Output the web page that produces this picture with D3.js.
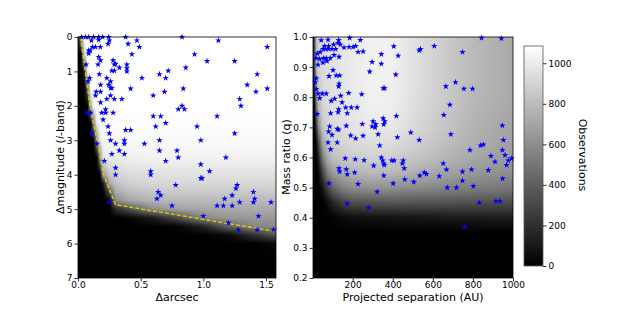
<!DOCTYPE html>
<html lang="en">
<head>
<meta charset="UTF-8">
<script src="https://d3js.org/d3.v7.min.js"></script>
<style>
  body { margin: 0; background: #fff; }
  text { font-family: "DejaVu Sans", sans-serif; }
</style>
</head>
<body>
<div id="chart"></div>
<script>
// ---- left panel: completeness map (observations) on a sep x dmag grid
const leftGridSep = [0, 0.025, 0.05, 0.075, 0.1, 0.125, 0.15, 0.175, 0.2, 0.25, 0.3, 0.4, 0.6, 0.8, 1.0, 1.2, 1.4, 1.6];
const leftGridMag = [0, 0.5, 1, 1.5, 2, 2.5, 3, 3.5, 4, 4.25, 4.5, 4.75, 5, 5.25, 5.5, 5.75, 6, 6.5, 7];
const leftGridObs = [
  [0,700,1085,1085,1085,1085,1085,1085,1085,1085,1085,1085,1085,1085,1085,1085,1085,1085],
  [0,0,900,1085,1085,1085,1085,1085,1085,1085,1085,1085,1085,1085,1085,1085,1085,1085],
  [0,0,100,1000,1085,1085,1085,1085,1085,1085,1085,1085,1085,1085,1085,1085,1085,1085],
  [0,0,0,350,1060,1085,1085,1085,1085,1085,1085,1085,1085,1085,1085,1085,1085,1085],
  [0,0,0,0,700,1050,1080,1085,1085,1085,1085,1085,1085,1085,1085,1085,1085,1085],
  [0,0,0,0,0,550,1000,1060,1075,1078,1078,1078,1078,1078,1078,1078,1078,1078],
  [0,0,0,0,0,0,600,980,1050,1055,1058,1060,1062,1062,1062,1062,1062,1062],
  [0,0,0,0,0,0,0,550,980,1000,1010,1020,1030,1030,1030,1030,1030,1030],
  [0,0,0,0,0,0,0,0,650,850,900,930,955,960,960,960,960,960],
  [0,0,0,0,0,0,0,0,100,720,820,880,915,920,920,920,920,920],
  [0,0,0,0,0,0,0,0,0,350,720,800,850,860,860,860,860,860],
  [0,0,0,0,0,0,0,0,0,20,580,700,770,785,790,790,790,790],
  [0,0,0,0,0,0,0,0,0,0,180,330,600,690,710,720,720,720],
  [0,0,0,0,0,0,0,0,0,0,0,20,120,330,580,640,650,650],
  [0,0,0,0,0,0,0,0,0,0,0,0,0,20,150,420,570,580],
  [0,0,0,0,0,0,0,0,0,0,0,0,0,0,0,40,200,380],
  [0,0,0,0,0,0,0,0,0,0,0,0,0,0,0,0,0,40],
  [0,0,0,0,0,0,0,0,0,0,0,0,0,0,0,0,0,0],
  [0,0,0,0,0,0,0,0,0,0,0,0,0,0,0,0,0,0]
];
// contrast curve (yellow dashed)
const curveSep = [0.02, 0.1, 0.165, 0.2, 0.3, 1.58];
const curveMag = [0, 2.1, 3.2, 3.97, 4.87, 5.65];
// detected companions [sep arcsec, dmag]
const leftStars = [
  [0.03,0],[0.06,0],[0.085,0],[0.125,0],[0.165,0],[0.197,0],[0.245,0],[0.38,0],[0.83,0],
  [0.107,0.1],[0.165,0.08],[0.25,0.1],[0.47,0.1],[1.12,0.1],[0.4,0.2],[0.24,0.2],
  [0.117,0.29],[0.139,0.29],[0.178,0.29],[0.49,0.29],[1.51,0.29],[0.085,0.39],[0.098,0.39],
  [0.085,0.48],[0.43,0.5],[0.93,0.5],[0.165,0.58],[0.18,0.68],[0.28,0.68],[1.03,0.7],[1.25,0.7],
  [0.064,0.8],[0.16,0.8],[0.29,0.8],[0.3,0.78],[0.39,0.8],[0.39,0.91],[0.39,1.0],
  [0.33,0.89],[0.86,0.89],[0.27,0.98],[0.29,0.98],[0.72,0.98],[0.17,1.08],[0.65,1.08],[1.43,1.08],
  [0.093,1.19],[0.23,1.19],[0.51,1.19],[0.70,1.19],[0.08,1.29],[0.26,1.29],
  [0.18,1.39],[0.245,1.39],[1.35,1.39],[0.26,1.48],[0.27,1.48],[0.42,1.5],[0.84,1.5],[1.51,1.5],
  [0.145,1.59],[0.18,1.59],[0.69,1.59],[1.42,1.59],[0.14,1.7],[0.26,1.7],[0.6,1.7],
  [0.23,1.8],[0.29,1.8],[0.35,1.8],[1.29,1.8],[0.18,1.9],[1.3,2.0],
  [0.22,2.1],[0.8,2.1],[0.83,2.0],[0.85,2.1],[0.072,2.2],[0.1,2.2],[0.19,2.2],[0.22,2.2],[0.28,2.2],
  [0.6,2.3],[0.66,2.3],[1.11,2.3],[0.2,2.4],[0.7,2.5],[0.24,2.6],[0.62,2.6],[0.95,2.6],
  [0.38,2.7],[0.42,2.7],[0.11,2.8],[0.25,2.8],[1.25,2.8],
  [0.26,3.0],[0.37,3.0],[0.65,3.0],[0.98,3.0],[0.15,3.1],[0.3,3.1],[0.37,3.1],[0.53,3.1],
  [0.33,3.3],[0.65,3.3],[0.79,3.3],[0.27,3.4],[0.37,3.4],[0.8,3.5],[1.18,3.5],
  [0.21,3.6],[0.7,3.6],[0.98,3.7],[0.3,3.8],[0.58,3.9],[0.58,4.0],[1.05,3.9],[0.3,4.0],
  [0.98,4.1],[0.99,4.1],[0.78,4.3],[1.27,4.3],[1.26,4.4],[0.64,4.5],[1.4,4.5],
  [0.66,4.6],[1.23,4.6],[0.63,4.7],[1.17,4.7],[1.41,4.7],
  [0.25,4.8],[1.29,4.8],[1.4,4.8],[1.54,4.8],[0.75,4.9],[1.11,4.9],[1.16,4.9],[1.23,4.9],
  [1.0,5.2],[1.44,5.2],[1.2,5.4],[1.28,5.6],[1.43,5.6],[1.56,5.6]
];

// ---- right panel: completeness on projected separation x mass ratio grid
const rightGridAU = [0, 10, 20, 30, 50, 75, 100, 150, 200, 300, 400, 600, 800, 1000];
const rightGridQ = [1.0, 0.95, 0.9, 0.85, 0.8, 0.75, 0.7, 0.65, 0.6, 0.55, 0.5, 0.45, 0.4, 0.35, 0.3, 0.25, 0.2];
const rightGridObs = [
  [0,350,820,900,930,950,960,980,1000,1030,1020,900,790,720],
  [0,330,810,895,930,950,960,980,1000,1030,1020,900,790,720],
  [0,300,800,890,930,950,960,980,1000,1030,1020,900,790,720],
  [0,200,750,870,920,945,960,980,1000,1030,1020,900,790,720],
  [0,100,620,820,905,940,955,975,995,1025,1015,895,785,715],
  [0,40,450,740,880,925,945,965,985,1015,1005,885,775,705],
  [0,10,260,580,830,895,925,950,970,995,985,870,760,695],
  [0,0,80,320,700,840,880,910,930,950,940,845,745,680],
  [0,0,20,150,520,740,810,850,870,890,880,800,715,655],
  [0,0,0,40,280,540,660,740,770,790,780,720,650,600],
  [0,0,0,0,90,280,430,550,600,620,610,580,540,505],
  [0,0,0,0,0,60,150,270,330,350,360,350,340,330],
  [0,0,0,0,0,0,10,40,60,70,80,100,110,120],
  [0,0,0,0,0,0,0,0,0,0,0,0,0,0],
  [0,0,0,0,0,0,0,0,0,0,0,0,0,0],
  [0,0,0,0,0,0,0,0,0,0,0,0,0,0],
  [0,0,0,0,0,0,0,0,0,0,0,0,0,0]
];
// companions [projected separation AU, mass ratio q]
const rightStars = [
  [43,0.989],[77,0.991],[127,0.98],[130,0.99],[185,0.997],[238,0.99],[843,0.997],[942,0.995],
  [23,0.945],[38,0.95],[52,0.96],[60,0.97],[65,0.96],[80,0.97],[80,0.96],[97,0.96],[105,0.975],[115,0.96],
  [138,0.975],[157,0.965],[182,0.967],[202,0.967],[215,0.97],[227,0.95],[252,0.952],
  [17,0.93],[35,0.927],[55,0.93],[68,0.93],[88,0.93],[107,0.94],[132,0.934],
  [27,0.908],[52,0.915],[72,0.92],[102,0.89],[82,0.87],[118,0.872],[135,0.872],
  [285,0.885],[297,0.917],[343,0.943],[343,0.911],[405,0.969],[427,0.938],[415,0.875],
  [532,0.955],[538,0.96],[607,0.97],[748,0.95],
  [13,0.85],[18,0.863],[18,0.827],[713,0.85],[665,0.836],[755,0.828],[798,0.828],[130,0.836],[132,0.845],
  [180,0.814],[245,0.81],[352,0.83],[360,0.83],
  [27,0.812],[48,0.812],[68,0.812],[35,0.797],[93,0.788],[110,0.795],[140,0.805],[147,0.783],
  [130,0.76],[127,0.75],[165,0.766],[193,0.766],[222,0.766],[173,0.747],[90,0.747],[23,0.744],
  [248,0.711],[302,0.72],[315,0.71],[312,0.7],[297,0.703],[352,0.73],[360,0.72],[355,0.71],
  [418,0.738],[423,0.667],[655,0.741],[690,0.677],[685,0.775],[947,0.706],[490,0.683],[532,0.658],
  [85,0.703],[80,0.686],[97,0.675],[123,0.695],[130,0.692],[77,0.65],[90,0.627],[123,0.65],
  [168,0.705],[190,0.673],[215,0.663],[252,0.672],[327,0.677],[335,0.64],
  [343,0.6],[350,0.59],[355,0.58],[358,0.575],[395,0.59],[407,0.59],[448,0.58],[452,0.59],[457,0.564],
  [213,0.594],[163,0.597],[132,0.564],[135,0.553],[168,0.561],[257,0.591],[305,0.573],[355,0.54],[173,0.544],
  [82,0.514],[210,0.55],[227,0.512],[322,0.486],[402,0.514],[460,0.527],[505,0.519],[535,0.54],
  [557,0.55],[568,0.545],[632,0.538],[652,0.58],[668,0.56],[748,0.553],[748,0.523],[672,0.5],[718,0.5],
  [793,0.56],[785,0.625],[838,0.64],[852,0.643],[890,0.605],[910,0.586],[947,0.625],[952,0.658],
  [960,0.608],[968,0.575],[977,0.59],[993,0.597],[877,0.558],[948,0.53],[802,0.505],
  [832,0.45],[915,0.455],[935,0.455],[172,0.447],[280,0.433],[757,0.37]
];

const obsMax = 1085;
const cbarTicks = [0, 200, 400, 600, 800, 1000];

const svg = d3.select("#chart").append("svg")
  .attr("width", 624)
  .attr("height", 312)
  .style("background", "#fff");

const gray = d3.scaleLinear().domain([0, obsMax]).range([0, 255]).clamp(true);
const star = d3.symbol().type(d3.symbolStar).size(13);

// paint a grid onto a canvas with bilinear interpolation, return a data url
function heatImage(xs, ys, xGrid, yGrid, grid) {
  const w = Math.round(xs.range()[1]), h = Math.round(d3.max(ys.range()));
  const fx = d3.scaleLinear().domain(xGrid).range(d3.range(xGrid.length)).clamp(true);
  const fy = d3.scaleLinear().domain(yGrid).range(d3.range(yGrid.length)).clamp(true);
  const canvas = document.createElement("canvas");
  canvas.width = w; canvas.height = h;
  const ctx = canvas.getContext("2d");
  const img = ctx.createImageData(w, h);
  for (let py = 0; py < h; py++) {
    const gy = fy(ys.invert(py + 0.5));
    const j0 = Math.min(Math.floor(gy), yGrid.length - 2), ty = gy - j0;
    for (let px = 0; px < w; px++) {
      const gx = fx(xs.invert(px + 0.5));
      const i0 = Math.min(Math.floor(gx), xGrid.length - 2), tx = gx - i0;
      const v = (grid[j0][i0] * (1 - tx) + grid[j0][i0 + 1] * tx) * (1 - ty)
              + (grid[j0 + 1][i0] * (1 - tx) + grid[j0 + 1][i0 + 1] * tx) * ty;
      const c = Math.round(gray(v)), k = (py * w + px) * 4;
      img.data[k] = c; img.data[k + 1] = c; img.data[k + 2] = c; img.data[k + 3] = 255;
    }
  }
  ctx.putImageData(img, 0, 0);
  return { url: canvas.toDataURL(), w: w, h: h };
}

function styleAxis(g) {
  g.select(".domain").remove();
  g.selectAll(".tick line").attr("stroke", "#000").attr("stroke-width", 0.8);
  g.selectAll(".tick text").attr("fill", "#000").style("font-size", "9px")
    .style("font-family", "DejaVu Sans");
}

// ---------------- left panel
const L = { x: 78, y: 37, w: 198, h: 241 };
const left = svg.append("g").attr("transform", `translate(${L.x},${L.y})`);
const xL = d3.scaleLinear().domain([0, 1.58]).range([0, L.w]);
const yL = d3.scaleLinear().domain([0, 7]).range([0, L.h]);

const hl = heatImage(xL, yL, leftGridSep, leftGridMag, leftGridObs);
left.append("image").attr("href", hl.url).attr("width", hl.w).attr("height", hl.h)
  .attr("preserveAspectRatio", "none");

left.append("path")
  .datum(d3.zip(curveSep, curveMag))
  .attr("d", d3.line().x(d => xL(d[0])).y(d => yL(d[1])))
  .attr("fill", "none")
  .attr("stroke", "#ddcc00")
  .attr("stroke-width", 1.4)
  .attr("stroke-dasharray", "4,2");

left.append("g").selectAll("path")
  .data(leftStars)
  .join("path")
  .attr("transform", d => `translate(${xL(d[0])},${yL(d[1])})`)
  .attr("d", star)
  .attr("fill", "#0000ff");

left.append("rect").attr("width", L.w).attr("height", L.h)
  .attr("fill", "none").attr("stroke", "#000").attr("stroke-width", 0.8);

left.append("g").attr("transform", `translate(0,${L.h})`)
  .call(d3.axisBottom(xL).tickValues([0, 0.5, 1, 1.5]).tickFormat(d3.format(".1f")).tickSize(3.5).tickPadding(0.5))
  .call(styleAxis);
left.append("g")
  .call(d3.axisLeft(yL).tickValues(d3.range(0, 8)).tickFormat(d3.format("d")).tickSize(3.5).tickPadding(2))
  .call(styleAxis);

svg.append("text")
  .attr("x", 177).attr("y", 301)
  .attr("text-anchor", "middle")
  .style("font-size", "11px")
  .text("Δarcsec");

const ylab = svg.append("text")
  .attr("transform", "translate(64,157) rotate(-90)")
  .attr("text-anchor", "middle")
  .style("font-size", "11px");
ylab.append("tspan").text("Δmagnitude (");
ylab.append("tspan").style("font-style", "italic").text("i");
ylab.append("tspan").text("-band)");

// ---------------- right panel
const R = { x: 313, y: 37, w: 200, h: 241 };
const right = svg.append("g").attr("transform", `translate(${R.x},${R.y})`);
const xR = d3.scaleLinear().domain([2, 1000]).range([0, R.w]);
const yR = d3.scaleLinear().domain([0.2, 1.0]).range([R.h, 0]);

const hr = heatImage(xR, yR, rightGridAU, rightGridQ, rightGridObs);
right.append("image").attr("href", hr.url).attr("width", hr.w).attr("height", hr.h)
  .attr("preserveAspectRatio", "none");

right.append("g").selectAll("path")
  .data(rightStars)
  .join("path")
  .attr("transform", d => `translate(${xR(d[0])},${yR(d[1])})`)
  .attr("d", star)
  .attr("fill", "#0000ff");

right.append("rect").attr("width", R.w).attr("height", R.h)
  .attr("fill", "none").attr("stroke", "#000").attr("stroke-width", 0.8);

right.append("g").attr("transform", `translate(0,${R.h})`)
  .call(d3.axisBottom(xR).tickValues([200, 400, 600, 800, 1000]).tickFormat(d3.format("d")).tickSize(3.5).tickPadding(0.5))
  .call(styleAxis);
right.append("g")
  .call(d3.axisLeft(yR).tickValues(d3.range(2, 11).map(d => d / 10)).tickFormat(d3.format(".1f")).tickSize(3.5).tickPadding(2))
  .call(styleAxis);

svg.append("text")
  .attr("x", 413).attr("y", 301)
  .attr("text-anchor", "middle")
  .style("font-size", "11px")
  .text("Projected separation (AU)");

svg.append("text")
  .attr("transform", "translate(290,157) rotate(-90)")
  .attr("text-anchor", "middle")
  .style("font-size", "11px")
  .text("Mass ratio (q)");

// ---------------- colorbar
const C = { x: 524, y: 46, w: 19, h: 220 };
const grad = svg.append("defs").append("linearGradient")
  .attr("id", "cbar").attr("x1", 0).attr("y1", 1).attr("x2", 0).attr("y2", 0);
grad.append("stop").attr("offset", 0).attr("stop-color", "#000");
grad.append("stop").attr("offset", 1).attr("stop-color", "#fff");

const cb = svg.append("g").attr("transform", `translate(${C.x},${C.y})`);
cb.append("rect").attr("width", C.w).attr("height", C.h)
  .attr("fill", "url(#cbar)").attr("stroke", "#555").attr("stroke-width", 0.8);
const yC = d3.scaleLinear().domain([0, obsMax]).range([C.h, 0]);
cb.append("g").attr("transform", `translate(${C.w},0)`)
  .call(d3.axisRight(yC).tickValues(cbarTicks).tickFormat(d3.format("d")).tickSize(3.5).tickPadding(2))
  .call(styleAxis);

svg.append("text")
  .attr("transform", "translate(579,155) rotate(90)")
  .attr("text-anchor", "middle")
  .style("font-size", "11px")
  .text("Observations");
</script>
</body>
</html>
